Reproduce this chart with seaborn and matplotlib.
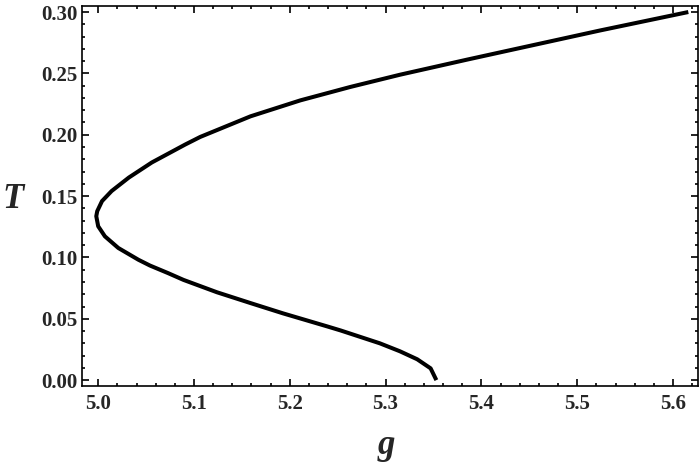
import pandas as pd
import matplotlib
matplotlib.use("Agg")
import matplotlib.pyplot as plt
import seaborn as sns
from matplotlib.ticker import MultipleLocator

sns.set_style("ticks")
plt.rcParams['font.family'] = ['Liberation Serif', 'DejaVu Serif']

# curve, following the branch from top right round the nose
g_vals = [5.616, 5.524, 5.420, 5.385, 5.315, 5.263, 5.211, 5.159, 5.1065, 5.0908,
          5.056, 5.032, 5.014, 5.004, 4.999, 4.998, 5.000, 5.007, 5.021, 5.042,
          5.054, 5.073, 5.089, 5.124, 5.159, 5.193, 5.239, 5.253, 5.294, 5.315,
          5.333, 5.347, 5.353]
T_vals = [0.300, 0.2850, 0.2672, 0.2612, 0.2489, 0.2389, 0.2280, 0.2150, 0.1982, 0.1920,
          0.1774, 0.1651, 0.1541, 0.1459, 0.1377, 0.1336, 0.1254, 0.1172, 0.1077, 0.0981,
          0.0934, 0.0872, 0.0817, 0.0716, 0.0628, 0.0544, 0.0438, 0.0405, 0.0300, 0.0235,
          0.0170, 0.0096, 0.0]
x_ticks = [5.0, 5.1, 5.2, 5.3, 5.4, 5.5, 5.6]
y_ticks = [0.00, 0.05, 0.10, 0.15, 0.20, 0.25, 0.30]

df = pd.DataFrame({'g': g_vals, 'T': T_vals})

fig = plt.figure(figsize=(7, 4.63), dpi=100)
ax = fig.add_axes([0.117, 0.166, 0.880, 0.821])

sns.lineplot(data=df, x='g', y='T', sort=False, estimator=None,
             color='black', linewidth=2.9, ax=ax)
ax.lines[0].set_solid_capstyle('butt')
ax.lines[0].set_solid_joinstyle('round')

ax.set_xlim(4.983, 5.626)
ax.set_ylim(-0.0049, 0.3049)
ax.set_xticks(x_ticks)
ax.set_yticks(y_ticks)
ax.set_xticklabels([f"{v:.1f}" for v in x_ticks])
ax.set_yticklabels([f"{v:.2f}" for v in y_ticks])
ax.xaxis.set_minor_locator(MultipleLocator(0.02))
ax.yaxis.set_minor_locator(MultipleLocator(0.01))

ax.tick_params(which='both', direction='in', top=True, right=True, color='black', width=1.2)
ax.tick_params(which='major', length=5, labelsize=15, pad=6)
ax.tick_params(axis='y', which='major', pad=3)
ax.tick_params(which='minor', length=2.5)
for lab in ax.get_xticklabels() + ax.get_yticklabels():
    lab.set_fontweight('bold')

for sp in ax.spines.values():
    sp.set_visible(True)
    sp.set_linewidth(1.2)
    sp.set_color('black')

ax.set_xlabel('g', fontsize=25, fontweight='bold', fontstyle='italic')
ax.set_ylabel('T', fontsize=25, fontweight='bold', fontstyle='italic', rotation=0)
ax.xaxis.set_label_coords(0.494, -0.155)
ax.yaxis.set_label_coords(-0.111, 0.49)
ax.xaxis.label.set_va('center')
ax.yaxis.label.set_va('center')

fig.savefig("out.png", dpi=100)
